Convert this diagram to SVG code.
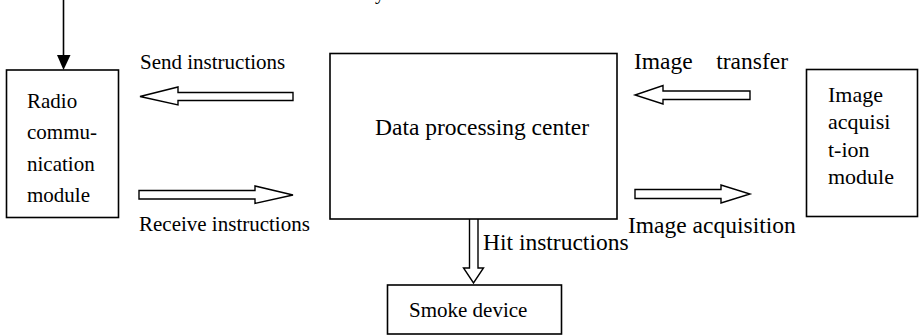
<svg xmlns="http://www.w3.org/2000/svg" width="920" height="336" viewBox="0 0 920 336" font-family="'Liberation Serif', 'DejaVu Serif', serif">
<style>
text{font-family:'Liberation Serif','DejaVu Serif',serif;fill:#000}
.box{fill:#fff;stroke:#000;stroke-width:1.6}
.blk{fill:#fff;stroke:#000;stroke-width:1.4;stroke-linejoin:miter}
.line{stroke:#000;stroke-width:1.6;fill:none}
</style>
<rect width="920" height="336" fill="#fff"/>
<text x="375" y="-1" font-size="20">y</text>
<g id="connectors">
<line class="line" x1="63.5" y1="0" x2="63.5" y2="56"/>
<path d="M57,55 L70.5,55 L63.5,70 Z" fill="#000"/>
<path id="send" class="blk" d="M293,92.5 L178,92.5 L178,87 L140,96.5 L178,105 L178,100.5 L293,100.5 Z"/>
<path id="receive" class="blk" d="M139,190.5 L255,190.5 L255,186 L293,195 L255,203.5 L255,199 L139,199 Z"/>
<path id="transfer" class="blk" d="M750,91 L663,91 L663,85.5 L635,95 L663,104 L663,99.5 L750,99.5 Z"/>
<path id="acquire" class="blk" d="M635,189.5 L721,189.5 L721,185 L750,194 L721,203 L721,198.5 L635,198.5 Z"/>
<path id="hit" class="blk" d="M469.5,219 L469.5,268 L463.5,268 L473.5,283 L483.5,268 L478,268 L478,219"/>
<text x="140" y="69" font-size="21">Send instructions</text>
<text x="139" y="231" font-size="21">Receive instructions</text>
<text x="634" y="69" font-size="23.5" style="white-space:pre" xml:space="preserve">Image    transfer</text>
<text x="628" y="233" font-size="23.5">Image acquisition</text>
<text x="483" y="250" font-size="23.5">Hit instructions</text>
</g>
<g id="radio">
<rect class="box" x="6.5" y="70" width="112" height="147.5"/>
<text font-size="21"><tspan x="27" y="108">Radio</tspan><tspan x="27" y="139">commu-</tspan><tspan x="27" y="171">nication</tspan><tspan x="27" y="202">module</tspan></text>
</g>
<g id="center">
<rect class="box" x="330" y="53.5" width="287" height="165.5"/>
<text x="375" y="135" font-size="23.5">Data processing center</text>
</g>
<g id="imagemod">
<rect class="box" x="806.5" y="69.5" width="111" height="147"/>
<text font-size="22"><tspan x="828" y="102">Image</tspan><tspan x="828" y="129">acquisi</tspan><tspan x="828" y="157">t-ion</tspan><tspan x="828" y="184">module</tspan></text>
</g>
<g id="smoke">
<rect class="box" x="387.5" y="285" width="174" height="49"/>
<text x="409" y="317" font-size="21">Smoke device</text>
</g>
</svg>
